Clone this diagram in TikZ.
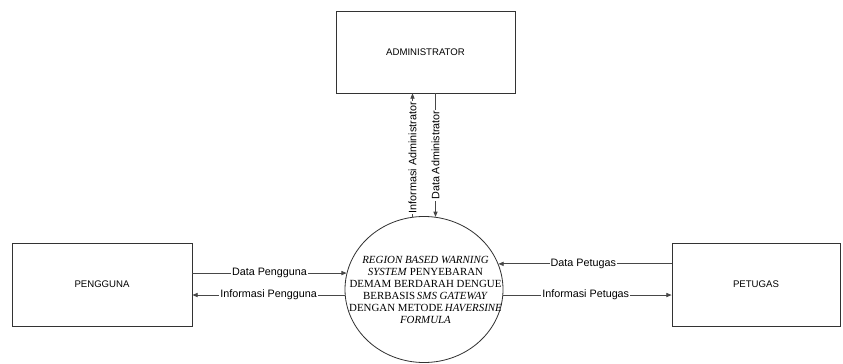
\documentclass[tikz,border=0pt]{standalone}
\usepackage{fontspec}
\setmainfont{Liberation Serif}
\newfontfamily\arial{Liberation Sans}
\usetikzlibrary{arrows.meta,shapes.geometric}
\definecolor{garis}{HTML}{333333}
\definecolor{panah}{HTML}{474747}
\tikzset{
  entitas/.style={draw=garis,line width=0.7pt,inner sep=0pt,font=\arial\fontsize{8.2}{10}\selectfont},
  alir/.style={draw=panah,line width=0.7pt,-{Triangle[length=4.5pt,width=3.6pt]}},
  ket/.style={fill=white,inner sep=0.8pt,font=\arial\fontsize{9.2}{11}\selectfont},
}

\begin{document}
\begin{tikzpicture}[x=0.03cm,y=-0.03cm]
\useasboundingbox (0,0) rectangle (843,363);
% kotak entitas luar
\node[entitas,minimum width=5.37cm,minimum height=2.46cm] (admin) at (425.5,52) {ADMINISTRATOR};
\node[entitas,minimum width=5.4cm,minimum height=2.49cm] (pengguna) at (102,284.5) {PENGGUNA};
\node[entitas,minimum width=5.04cm,minimum height=2.49cm] (petugas) at (756,284.5) {PETUGAS};
% proses
\node[draw=garis,line width=0.7pt,ellipse,minimum width=4.74cm,minimum height=4.38cm,inner sep=0pt] (proses) at (424,289.5) {};
\node[align=center,inner sep=0pt,font=\fontsize{9.3}{10.3}\selectfont] (teks) at (425.5,290) {\textit{REGION BASED WARNING}\\\textit{SYSTEM} PENYEBARAN\\DEMAM BERDARAH DENGUE\\BERBASIS\,\textit{SMS GATEWAY}\\DENGAN METODE\,\textit{HAVERSINE}\\\textit{FORMULA}};
% aliran data
\draw[alir] (proses.99) -- node[ket,rotate=90,pos=0.48]{Informasi Administrator} (proses.99 |- admin.south);
\draw[alir] (proses.81 |- admin.south) -- node[ket,rotate=90]{Data Administrator} (proses.81);
\draw[alir] (pengguna.east |- proses.168) -- node[ket]{Data Pengguna} (proses.168);
\draw[alir] (proses.184) -- node[ket]{Informasi Pengguna} (pengguna.east |- proses.184);
\draw[alir] (petugas.west |- proses.19) -- node[ket,pos=0.51]{Data Petugas} (proses.19);
\draw[alir] (proses.356) -- node[ket,pos=0.49]{Informasi Petugas} (petugas.west |- proses.356);
\end{tikzpicture}
\end{document}
